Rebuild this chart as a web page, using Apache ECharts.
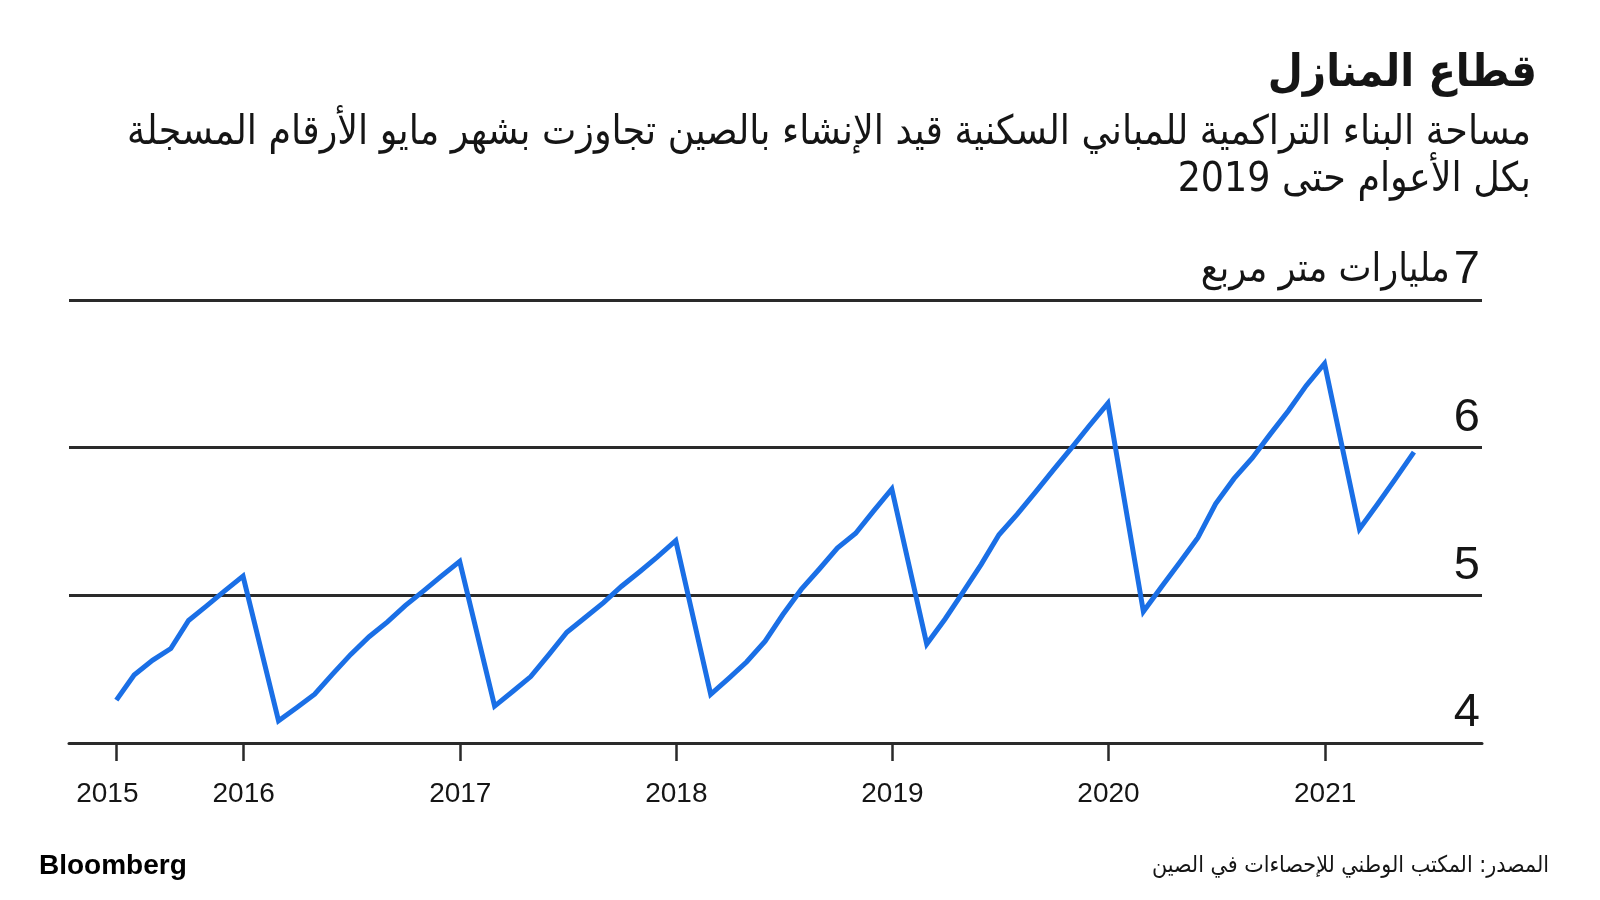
<!DOCTYPE html>
<html>
<head>
<meta charset="utf-8">
<script src="https://cdn.jsdelivr.net/npm/echarts@6/dist/echarts.min.js"></script>
<style>html,body{margin:0;padding:0;background:#fff}#c{width:1600px;height:900px}</style>
</head>
<body>
<div id="c"></div>
<script>
// ---- data ----
const months = [
  '2015-05','2015-06','2015-07','2015-08','2015-09','2015-10','2015-11','2015-12',
  '2016-02','2016-03','2016-04','2016-05','2016-06','2016-07','2016-08','2016-09','2016-10','2016-11','2016-12',
  '2017-02','2017-03','2017-04','2017-05','2017-06','2017-07','2017-08','2017-09','2017-10','2017-11','2017-12',
  '2018-02','2018-03','2018-04','2018-05','2018-06','2018-07','2018-08','2018-09','2018-10','2018-11','2018-12',
  '2019-02','2019-03','2019-04','2019-05','2019-06','2019-07','2019-08','2019-09','2019-10','2019-11','2019-12',
  '2020-02','2020-03','2020-04','2020-05','2020-06','2020-07','2020-08','2020-09','2020-10','2020-11','2020-12',
  '2021-02','2021-03','2021-04','2021-05'
];
const values = [
  4.29,4.46,4.56,4.64,4.83,4.93,5.03,5.13,
  4.15,4.24,4.33,4.47,4.60,4.72,4.82,4.93,5.03,5.13,5.23,
  4.25,4.35,4.45,4.60,4.75,4.85,4.95,5.06,5.16,5.26,5.37,
  4.33,4.44,4.55,4.69,4.87,5.04,5.18,5.32,5.42,5.57,5.72,
  4.67,4.84,5.02,5.21,5.41,5.55,5.70,5.85,6.00,6.15,6.30,
  4.89,5.06,5.22,5.39,5.62,5.79,5.93,6.09,6.25,6.42,6.57,
  5.45,5.62,5.79,5.97
];
const tickDates = ['2015-05-31','2016-01-01','2017-01-01','2018-01-01','2019-01-01','2020-01-01','2021-01-01'];
const tickLabels = ['2015','2016','2017','2018','2019','2020','2021'];
const yTicks = [4, 5, 6, 7];
const yUnit = 'مليارات متر مربع';
const titleText = 'قطاع المنازل';
const subtitleLines = ['مساحة البناء التراكمية للمباني السكنية قيد الإنشاء بالصين تجاوزت بشهر مايو الأرقام المسجلة', 'بكل الأعوام حتى 2019'];
const sourceText = 'المصدر: المكتب الوطني للإحصاءات في الصين';
const brandText = 'Bloomberg';

// ---- helpers ----
function monthEnd(s){ const [y,m]=s.split('-').map(Number); return Date.UTC(y, m, 0); }
function day(s){ const [y,m,d]=s.split('-').map(Number); return Date.UTC(y, m-1, d); }
const seriesData = months.map((m,i)=>[monthEnd(m), values[i]]);
const tickVals = tickDates.map(day);
const labelMap = {}; tickVals.forEach((t,i)=>labelMap[t]=tickLabels[i]);

const AR = "'DejaVu Sans Condensed','DejaVu Sans',sans-serif";
const LAT = "'Liberation Sans',Arial,sans-serif";
const INK = '#151515';
const LINE = '#2a2a2a';

const chart = echarts.init(document.getElementById('c'), null, {renderer:'canvas'});
chart.setOption({
  backgroundColor:'#ffffff',
  animation:false,
  title:[
    {text:titleText, right:58, top:47, textStyle:{fontFamily:AR, fontWeight:'bold', fontSize:45, color:INK}},
    {text:subtitleLines[0], right:64, top:108, textStyle:{fontFamily:AR, fontWeight:'normal', fontSize:40.5, color:INK}},
    {text:subtitleLines[1], right:64, top:155, textStyle:{fontFamily:AR, fontWeight:'normal', fontSize:40.5, color:INK}}
  ],
  graphic:[
    {type:'text', left:39, top:852, style:{text:brandText, font:"bold 28px 'Liberation Sans', Arial, sans-serif", fill:'#000'}},
    {type:'text', right:51, top:855, style:{text:sourceText, font:"23px 'DejaVu Sans Condensed','DejaVu Sans',sans-serif", fill:INK}}
  ],
  grid:{left:69, right:118, top:300, bottom:157, containLabel:false},
  xAxis:{
    type:'value',
    min: Date.UTC(2015,2,12), max: Date.UTC(2021,8,23),
    axisLine:{show:true, lineStyle:{color:LINE, width:3}},
    axisTick:{show:true, customValues:tickVals, length:18, lineStyle:{color:LINE, width:2.5}},
    axisLabel:{show:true, customValues:tickVals, margin:37, fontFamily:LAT, fontSize:28, color:INK,
      formatter:(v)=> v===tickVals[0] ? '{f|'+labelMap[v]+'}' : (labelMap[v] || ''),
      rich:{f:{fontFamily:LAT, fontSize:28, color:INK, padding:[0,18,0,0]}}},
    splitLine:{show:false}
  },
  yAxis:{
    type:'value', position:'right', min:4, max:7, interval:1,
    axisLine:{show:false}, axisTick:{show:false},
    splitLine:{show:true, lineStyle:{color:LINE, width:3}},
    axisLabel:{show:true, inside:true, margin:2, verticalAlign:'bottom', padding:[0,0,6,0],
      fontFamily:LAT, fontSize:47, color:INK,
      formatter:(v)=> v===yTicks[yTicks.length-1] ? '{a|'+yUnit+'}{n|'+v+'}' : String(v),
      rich:{a:{fontFamily:AR, fontSize:39, color:INK, padding:[0,4,0,0]}, n:{fontFamily:LAT, fontSize:47, color:INK}}
    }
  },
  series:[{
    type:'line', data:seriesData, showSymbol:false, symbol:'none',
    lineStyle:{color:'#1a6fe6', width:5, join:'miter'},
    clip:false
  }]
});
</script>
</body>
</html>
